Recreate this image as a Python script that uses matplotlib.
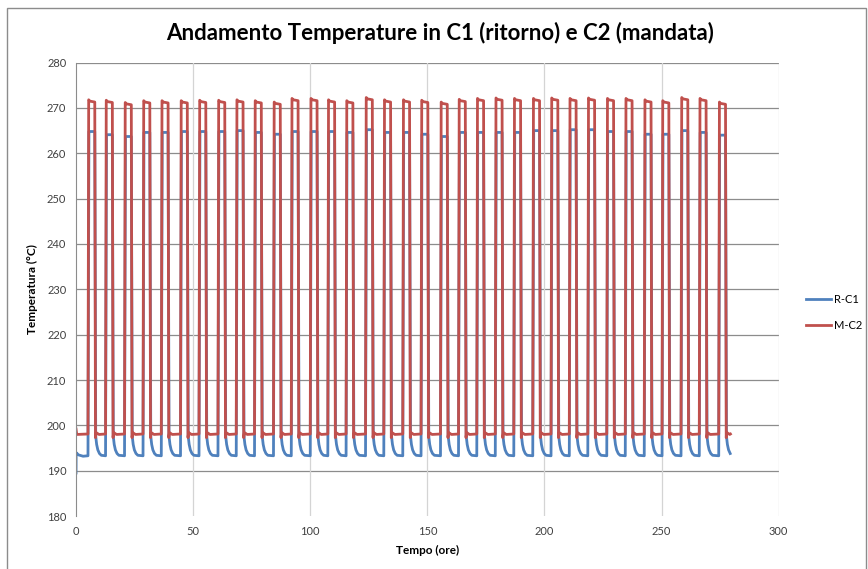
import matplotlib
matplotlib.use("Agg")
from matplotlib import pyplot as plt
from matplotlib.patches import Rectangle
import numpy as np

plt.rcParams['font.family'] = ['Lato', 'DejaVu Sans']

# centre of each high phase (hours)
pulse_centres = [6.7, 14.2, 22.3, 30.2, 38.0, 46.2, 54.1, 62.2, 70.0,
                 77.8, 85.9, 93.5, 101.6, 109.1, 116.9, 125.2, 133.0, 141.1,
                 148.9, 157.2, 164.9, 172.7, 180.6, 188.5, 196.6, 204.4, 212.2,
                 220.1, 228.2, 236.1, 244.2, 251.8, 259.9, 267.7, 276.0]

# plateau values per cycle (°C)
m_c2_high = [271.5, 271.4, 270.9, 271.3, 271.3, 271.3, 271.4, 271.4, 271.5,
             271.3, 271.0, 271.8, 271.8, 271.5, 271.3, 272.0, 271.5, 271.5,
             271.4, 271.0, 271.6, 271.8, 271.9, 271.8, 271.8, 271.9, 271.8,
             271.9, 271.8, 271.8, 271.5, 271.3, 272.0, 271.8, 271.0]
r_c1_high = [264.8, 264.1, 263.7, 264.6, 264.6, 264.8, 264.8, 264.8, 265.0,
             264.6, 264.2, 264.8, 264.8, 264.8, 264.6, 265.2, 264.6, 264.6,
             264.2, 263.7, 264.6, 264.6, 264.6, 264.6, 265.0, 265.0, 265.2,
             265.2, 264.8, 264.8, 264.2, 264.2, 265.0, 264.6, 264.0]

m_c2_low = [197.3, 198.4, 198.0, 198.1]
m_c2_low_t = [0.0, 0.3, 1.5]
r_c1_drop = [197.6, 195.8, 194.6, 193.8, 193.4]
r_c1_drop_t = [0.1, 0.5, 1.0, 1.7, 2.5]
half_high = 1.6
t_end = 279.4

# build the two series
t_m, v_m = [0.0, 0.3], [199.2, 198.0]
t_r, v_r = [0.0, 0.05, 1.0, 3.0], [189.5, 194.0, 193.5, 193.2]
for i, c in enumerate(pulse_centres):
    rise, fall = c - half_high, c + half_high
    nxt = pulse_centres[i + 1] - half_high if i + 1 < len(pulse_centres) else t_end
    t_m += [rise, rise + 0.3, rise + 0.8, fall - 0.3]
    v_m += [m_c2_low[-1], m_c2_high[i] + 0.3, m_c2_high[i], m_c2_high[i] - 0.2]
    for dt, v in zip(m_c2_low_t, m_c2_low[:3]):
        if fall + dt <= nxt:
            t_m.append(fall + dt)
            v_m.append(v)
    t_m.append(nxt)
    v_m.append(m_c2_low[-1])
    t_r += [rise, rise + 0.4, fall - 0.3]
    v_r += [193.3, r_c1_high[i], r_c1_high[i]]
    for dt, v in zip(r_c1_drop_t, r_c1_drop):
        if fall + dt <= nxt:
            t_r.append(fall + dt)
            v_r.append(v)
    if nxt > fall + 2.5:
        t_r.append(nxt)
        v_r.append(193.3)

fig = plt.figure(figsize=(8.68, 5.69), dpi=100)
ax = fig.add_axes([0.0876, 0.093, 0.8095, 0.797])

ax.plot(t_r, v_r, color='#4F81BD', lw=2, label='R-C1')
ax.plot(t_m, v_m, color='#C0504D', lw=2, label='M-C2')

ax.set_xlim(0, 300)
ax.set_ylim(180, 280)
ax.set_xticks(np.arange(0, 301, 50))
ax.set_yticks(np.arange(180, 281, 10))
ax.tick_params(length=0, labelsize=8, colors='#404040', pad=7)
for y in range(190, 281, 10):
    ax.axhline(y, color='#8c8c8c', lw=0.9, zorder=0)
for x in range(50, 301, 50):
    ax.axvline(x, color='#d4d4d4', lw=0.9, zorder=0)
for s in ['top', 'right', 'bottom']:
    ax.spines[s].set_visible(False)
ax.spines['left'].set_color('#8c8c8c')

ax.set_xlabel('Tempo (ore)', fontsize=8.5, fontweight='bold', labelpad=6)
ax.set_ylabel('Temperatura (°C)', fontsize=8.5, fontweight='bold', labelpad=6)
fig.text(0.507, 0.942, 'Andamento Temperature in C1 (ritorno) e C2 (mandata)',
         ha='center', va='center', fontsize=16, fontweight='bold')

ax.legend(loc='center left', bbox_to_anchor=(1.025, 0.45), frameon=False,
          fontsize=8, handlelength=2.2, handletextpad=0.3, labelspacing=1.35)

fig.add_artist(Rectangle((7 / 868, -0.01), 859 / 868, 1 - 8 / 569 + 0.01,
                         transform=fig.transFigure, fill=False,
                         edgecolor='#8c8c8c', lw=1))

fig.savefig('out.png', dpi=100)
